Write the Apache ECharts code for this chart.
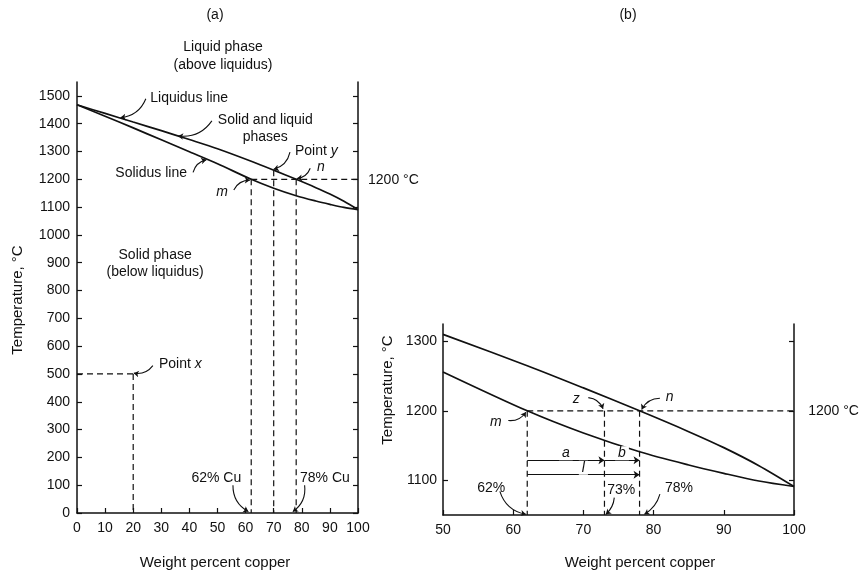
<!DOCTYPE html>
<html><head><meta charset="utf-8">
<script src="https://cdn.jsdelivr.net/npm/echarts@6/dist/echarts.min.js"></script>
<style>html,body{margin:0;background:#fff}#c{width:859px;height:575px}</style>
</head><body><div id="c"></div>
<script>
// ---- data ----
const wtPct    = [0, 10, 20, 30, 40, 50, 62, 70, 78, 85, 90, 95, 100];
const liquidus = [1468, 1437, 1406, 1375, 1343, 1310, 1265, 1233, 1200, 1170, 1147, 1121, 1091];
const solidus  = [1468, 1427, 1385, 1342, 1299, 1256, 1200, 1168, 1141, 1122, 1110, 1099, 1091];
const tempTicksA = [0, 100, 200, 300, 400, 500, 600, 700, 800, 900, 1000, 1100, 1200, 1300, 1400, 1500];
const tempTicksB = [1100, 1200, 1300];
const tieTemp = 1200;
const compM = 62, compY = 70, compZ = 73, compN = 78;
const pointX = [20, 500];

const FONT = 'Liberation Sans';
const INK = '#111';
const at = (arr, w) => arr[wtPct.indexOf(w)];
const pairs = (arr, from) => wtPct.map((w, i) => [w, arr[i]]).filter(p => p[0] >= from);

function seg(xi, yi, a, b) {
  return { type: 'line', xAxisIndex: xi, yAxisIndex: yi, data: [a, b], symbol: 'none', silent: true,
    lineStyle: { color: INK, width: 1.2, type: [6, 4] }, z: 2 };
}
function curve(xi, yi, data) {
  return { type: 'line', xAxisIndex: xi, yAxisIndex: yi, data, symbol: 'none', smooth: 0.3, silent: true,
    lineStyle: { color: INK, width: 1.7 }, z: 3 };
}
const rich = { i: { fontStyle: 'italic', fontFamily: FONT, fontSize: 14, fill: INK } };
function labels(xi, yi, items) {
  return { type: 'custom', xAxisIndex: xi, yAxisIndex: yi, clip: false, silent: true, z: 5,
    data: items.map(t => [t[1], t[2]]),
    renderItem: (params, api) => {
      const t = items[params.dataIndex];
      const p = api.coord([api.value(0), api.value(1)]);
      const pos = t[3];
      const dx = pos === 'right' ? 3 : pos === 'left' ? -3 : 0;
      return { type: 'text', x: p[0] + dx, y: p[1], style: {
        text: t[0], fill: INK, fontFamily: FONT, fontSize: 14, lineHeight: 17,
        fontStyle: t[4] ? 'italic' : 'normal', rich,
        align: pos === 'right' ? 'left' : pos === 'left' ? 'right' : 'center', verticalAlign: 'middle' } };
    } };
}
function leaders(xi, yi, items) {
  return { type: 'lines', coordinateSystem: 'cartesian2d', xAxisIndex: xi, yAxisIndex: yi, silent: true,
    symbol: ['none', 'arrow'], symbolSize: 5, z: 4,
    lineStyle: { color: INK, width: 1.1, opacity: 1 },
    data: items.map(t => ({ coords: [t[0], t[1]], lineStyle: { curveness: t[2], opacity: 1, color: INK } })) };
}

const axisLine = { show: true, lineStyle: { color: INK, width: 1.5 } };
const tickIn = { show: true, inside: true, length: 5, lineStyle: { color: INK, width: 1.2 } };
const lab = { color: INK, fontFamily: FONT, fontSize: 14, formatter: v => String(v) };

const option = {
  animation: false,
  backgroundColor: '#fff',
  grid: [
    { left: 77, top: 82, width: 281, height: 431 },
    { left: 443, top: 324, width: 351, height: 191 }
  ],
  xAxis: [
    { gridIndex: 0, type: 'value', min: 0, max: 100, interval: 10, axisLine, axisTick: tickIn,
      splitLine: { show: false }, axisLabel: { ...lab, margin: 8 } },
    { gridIndex: 1, type: 'value', min: 50, max: 100, interval: 10, axisLine, axisTick: tickIn,
      splitLine: { show: false }, axisLabel: { ...lab, margin: 8 } }
  ],
  yAxis: [
    { gridIndex: 0, type: 'value', min: 0, max: 1550, axisLine, splitLine: { show: false },
      axisTick: { ...tickIn, customValues: tempTicksA },
      axisLabel: { ...lab, margin: 7, customValues: tempTicksA } },
    { gridIndex: 0, type: 'value', position: 'right', min: 0, max: 1550, axisLine, splitLine: { show: false },
      axisTick: { ...tickIn, customValues: tempTicksA }, axisLabel: { show: false } },
    { gridIndex: 1, type: 'value', min: 1050, max: 1325, axisLine, splitLine: { show: false },
      axisTick: { ...tickIn, customValues: tempTicksB },
      axisLabel: { ...lab, margin: 6, customValues: tempTicksB } },
    { gridIndex: 1, type: 'value', position: 'right', min: 1050, max: 1325, axisLine, splitLine: { show: false },
      axisTick: { ...tickIn, customValues: tempTicksB }, axisLabel: { show: false } }
  ],
  graphic: [
    { type: 'text', x: 215, y: 15, style: { text: '(a)', font: `14px "${FONT}"`, fill: INK, align: 'center', verticalAlign: 'middle' } },
    { type: 'text', x: 628, y: 15, style: { text: '(b)', font: `14px "${FONT}"`, fill: INK, align: 'center', verticalAlign: 'middle' } },
    { type: 'text', x: 223, y: 56, style: { text: 'Liquid phase\n(above liquidus)', font: `14px "${FONT}"`, lineHeight: 18, fill: INK, align: 'center', verticalAlign: 'middle' } },
    { type: 'text', x: 18, y: 300, rotation: Math.PI / 2, style: { text: 'Temperature, °C', font: `15px "${FONT}"`, fill: INK, align: 'center', verticalAlign: 'middle' } },
    { type: 'text', x: 388, y: 390, rotation: Math.PI / 2, style: { text: 'Temperature, °C', font: `15px "${FONT}"`, fill: INK, align: 'center', verticalAlign: 'middle' } },
    { type: 'text', x: 215, y: 563, style: { text: 'Weight percent copper', font: `15px "${FONT}"`, fill: INK, align: 'center', verticalAlign: 'middle' } },
    { type: 'text', x: 640, y: 563, style: { text: 'Weight percent copper', font: `15px "${FONT}"`, fill: INK, align: 'center', verticalAlign: 'middle' } }
  ],
  series: [
    // panel (a)
    curve(0, 0, pairs(liquidus, 0)),
    curve(0, 0, pairs(solidus, 0)),
    seg(0, 0, [compM, tieTemp], [100, tieTemp]),
    seg(0, 0, [compM, tieTemp], [compM, 0]),
    seg(0, 0, [compY, at(liquidus, compY)], [compY, 0]),
    seg(0, 0, [compN, tieTemp], [compN, 0]),
    seg(0, 0, [0, pointX[1]], [pointX[0], pointX[1]]),
    seg(0, 0, [pointX[0], pointX[1]], [pointX[0], 0]),
    labels(0, 0, [
      ['Liquidus line', 25, 1493, 'right'],
      ['Solid and liquid\nphases', 67, 1383, 'inside'],
      ['Point {i|y}', 76.5, 1302, 'right'],
      ['n', 84.3, 1245, 'right', true],
      ['Solidus line', 40.2, 1223, 'left'],
      ['m', 54.8, 1155, 'left', true],
      ['Solid phase\n(below liquidus)', 27.8, 898, 'inside'],
      ['Point {i|x}', 28.1, 536, 'right'],
      ['62% Cu', 59.5, 126, 'left'],
      ['78% Cu', 78.3, 126, 'right'],
      ['1200 °C', 102.5, 1198, 'right']
    ]),
    leaders(0, 0, [
      [[24.5, 1490], [15.5, 1422], 0.3],
      [[48, 1410], [36, 1356], 0.3],
      [[75.8, 1298], [70, 1236], 0.3],
      [[83, 1240], [78.3, 1203], 0.3],
      [[41.3, 1225], [46, 1270], 0.3],
      [[55.8, 1162], [61.5, 1197], 0.3],
      [[27, 530], [20.2, 503], 0.3],
      [[55.5, 100], [61, 5], -0.3],
      [[81, 100], [76.8, 5], 0.3]
    ]),
    // panel (b)
    curve(1, 2, pairs(liquidus, 50)),
    curve(1, 2, pairs(solidus, 50)),
    seg(1, 2, [compM, tieTemp], [100, tieTemp]),
    seg(1, 2, [compM, tieTemp], [compM, 1050]),
    seg(1, 2, [compZ, tieTemp], [compZ, 1050]),
    seg(1, 2, [compN, tieTemp], [compN, 1050]),
    { type: 'lines', coordinateSystem: 'cartesian2d', xAxisIndex: 1, yAxisIndex: 2, silent: true,
      symbol: ['none', 'arrow'], symbolSize: 6, z: 4,
      lineStyle: { color: INK, width: 1.1, opacity: 1 },
      label: { show: true, position: 'middle', fontFamily: FONT, fontSize: 14, fontStyle: 'italic', color: INK,
        backgroundColor: '#fff', padding: [0, 3], opacity: 1 },
      data: [
        { coords: [[compM, 1129], [compZ, 1129]], label: { formatter: 'a' } },
        { coords: [[compZ, 1129], [compN, 1129]], label: { formatter: 'b' } },
        { coords: [[compM, 1108], [compN, 1108]], label: { formatter: 'l' } }
      ] },
    labels(1, 2, [
      ['1200 °C', 101.6, 1200, 'right'],
      ['z', 69.9, 1217, 'left', true],
      ['n', 81.3, 1220, 'right', true],
      ['m', 58.8, 1184, 'left', true],
      ['62%', 59.3, 1089, 'left'],
      ['73%', 75.4, 1086, 'inside'],
      ['78%', 81.2, 1089, 'right']
    ]),
    leaders(1, 2, [
      [[70.7, 1219], [72.8, 1203], 0.3],
      [[80.9, 1218], [78.3, 1202], -0.3],
      [[59.3, 1186], [61.8, 1198], -0.3],
      [[58.1, 1084], [61.8, 1051], -0.3],
      [[74.4, 1075], [73.2, 1051], 0.2],
      [[80.9, 1080], [78.7, 1051], 0.2]
    ])
  ]
};
const chart = echarts.init(document.getElementById('c'), null, { renderer: 'canvas' });
chart.setOption(option);
</script></body></html>
